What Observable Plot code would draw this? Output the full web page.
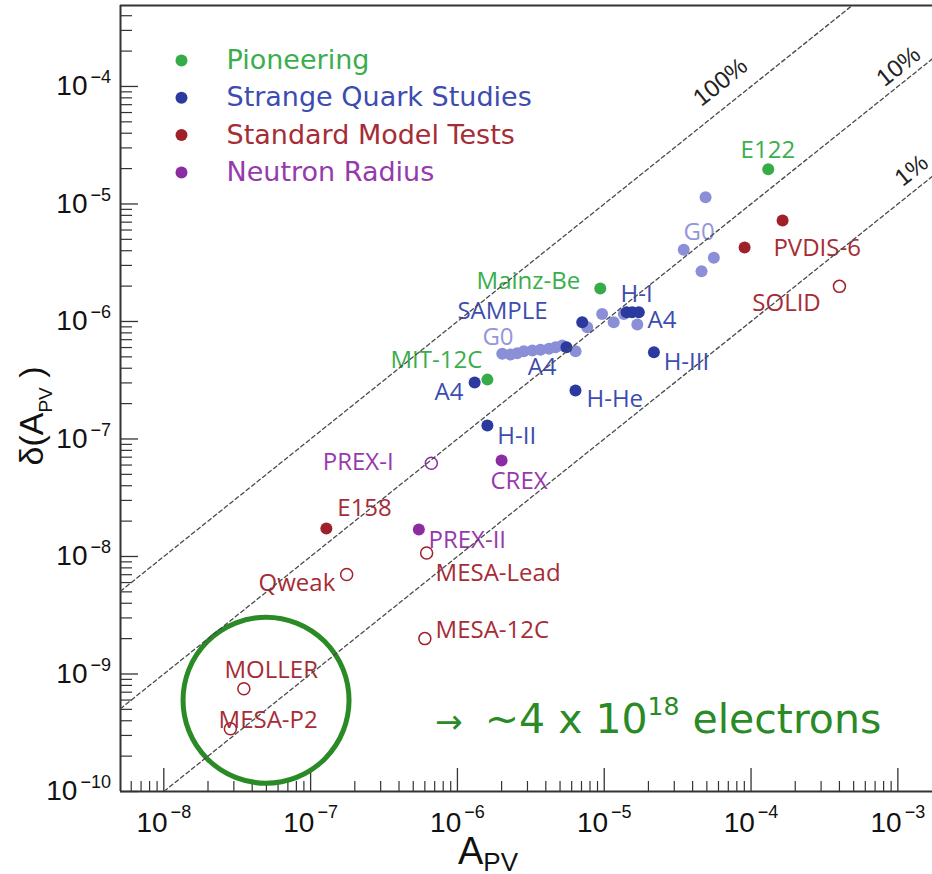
<!DOCTYPE html>
<html><head><meta charset="utf-8">
<script src="https://cdn.jsdelivr.net/npm/d3@7"></script>
<script src="https://cdn.jsdelivr.net/npm/@observablehq/plot@0.6"></script>
<style>
body{margin:0;background:#fff}
#chart{width:932px;height:874px}
</style>
</head><body><div id="chart"></div>
<script>
// ---------- data ----------
const groups = ["Pioneering", "Strange Quark Studies", "Standard Model Tests", "Neutron Radius"];
const groupKeys = ["green", "blue", "red", "purple"];

// points: name, A_PV, delta(A_PV), style key, filled/open
const pointName = [
  "E122", "Mainz-Be", "MIT-12C",
  "A4", "H-II", "H-He", "H-III", "A4", "SAMPLE", "H-I", "H-I", "H-I",
  "G0", "G0", "G0", "G0", "G0", "G0", "G0", "G0", "G0",
  "G0", "G0", "G0", "G0", "G0", "G0", "G0", "G0", "G0", "G0",
  "E158", "PVDIS-6", "PVDIS-6",
  "SOLID", "Qweak", "MESA-Lead", "MESA-12C", "MOLLER", "MESA-P2",
  "PREX-I", "CREX", "PREX-II"
];
const pointA = [
  1.31e-4, 9.4e-6, 1.6e-6,
  1.31e-6, 1.6e-6, 6.37e-6, 2.18e-5, 5.53e-6, 7.08e-6, 1.42e-5, 1.55e-5, 1.72e-5,
  4.9e-5, 3.48e-5, 5.58e-5, 4.6e-5, 9.68e-6, 1.16e-5, 1.36e-5, 1.68e-5, 7.66e-6,
  2.02e-6, 2.30e-6, 2.55e-6, 2.83e-6, 3.24e-6, 3.68e-6, 4.20e-6, 4.66e-6, 5.18e-6, 6.38e-6,
  1.28e-7, 9.04e-5, 1.64e-4,
  4.0e-4, 1.76e-7, 6.17e-7, 6.0e-7, 3.51e-8, 2.84e-8,
  6.64e-7, 2.0e-6, 5.46e-7
];
const pointD = [
  1.97e-5, 1.91e-6, 3.2e-7,
  3.03e-7, 1.30e-7, 2.59e-7, 5.48e-7, 6.04e-7, 9.87e-7, 1.2e-6, 1.2e-6, 1.2e-6,
  1.14e-5, 4.07e-6, 3.48e-6, 2.68e-6, 1.16e-6, 9.87e-7, 1.16e-6, 9.41e-7, 8.93e-7,
  5.31e-7, 5.24e-7, 5.37e-7, 5.58e-7, 5.66e-7, 5.74e-7, 5.86e-7, 6.04e-7, 6.25e-7, 5.58e-7,
  1.73e-8, 4.27e-6, 7.24e-6,
  1.99e-6, 7.03e-9, 1.07e-8, 2.0e-9, 7.48e-10, 3.42e-10,
  6.22e-8, 6.56e-8, 1.70e-8
];
const pointKey = [
  "green", "green", "green",
  "blue", "blue", "blue", "blue", "blue", "blue", "blue", "blue", "blue",
  "light", "light", "light", "light", "light", "light", "light", "light", "light",
  "light", "light", "light", "light", "light", "light", "light", "light", "light", "light",
  "red", "red", "red",
  "red", "red", "red", "red", "red", "red",
  "purple", "purple", "purple"
];
const pointFilled = [
  true, true, true,
  true, true, true, true, true, true, true, true, true,
  true, true, true, true, true, true, true, true, true,
  true, true, true, true, true, true, true, true, true, true,
  true, true, true,
  false, false, false, false, false, false,
  false, true, true
];

// labels (anchor = start of text, vertical middle), in data units
const labelText = ["E122", "G0", "PVDIS-6", "SOLID", "Mainz-Be", "H-I", "SAMPLE", "A4", "G0", "MIT-12C",
  "A4", "H-III", "A4", "H-He", "H-II", "PREX-I", "CREX", "E158", "PREX-II", "Qweak",
  "MESA-Lead", "MESA-12C", "MOLLER", "MESA-P2"];
const labelA = [8.49e-5, 3.47e-5, 1.42e-4, 1.02e-4, 1.35e-6, 1.29e-5, 1.0e-6, 1.97e-5, 1.48e-6, 3.50e-7,
  3.01e-6, 2.54e-5, 6.98e-7, 7.57e-6, 1.87e-6, 1.21e-7, 1.68e-6, 1.52e-7, 6.35e-7, 4.42e-8,
  7.10e-7, 7.10e-7, 2.59e-8, 2.36e-8];
const labelD = [2.85e-5, 5.71e-6, 4.18e-6, 1.42e-6, 2.19e-6, 1.70e-6, 1.22e-6, 1.02e-6, 7.31e-7, 4.66e-7,
  4.06e-7, 4.48e-7, 2.49e-7, 2.17e-7, 1.05e-7, 6.31e-8, 4.34e-8, 2.56e-8, 1.37e-8, 5.89e-9,
  7.16e-9, 2.34e-9, 1.07e-9, 4.02e-10];
const labelKey = ["green", "light", "red", "red", "green", "blue", "blue", "blue", "light", "green",
  "blue", "blue", "blue", "blue", "blue", "purple", "purple", "red", "purple", "red",
  "red", "red", "red", "red"];

// precision lines: delta = fraction * A
const fractions = [1, 0.1, 0.01];
const fractionText = ["100%", "10%", "1%"];
const fractionLabelA = [6.19e-5, 1.01e-3, 1.24e-3];
const fractionLabelD = [1.09e-4, 1.48e-4, 1.93e-5];

// highlighted region (MOLLER / MESA-P2)
const circleA = [4.97e-8];
const circleD = [5.98e-10];

// axes
const xExponents = [-8, -7, -6, -5, -4, -3];
const yExponents = [-10, -9, -8, -7, -6, -5, -4];
const xDomain = [Math.pow(10, -8.295), Math.pow(10, -2.764)];
const yDomain = [1e-10, Math.pow(10, -3.311)];

// ---------- styles ----------
const dotColor = {green: "#36ac48", blue: "#2b3a9e", light: "#8b8fd8", red: "#a0202a", purple: "#8c2ca2"};
const textColor = {green: "#3aae4c", blue: "#3d4cb0", light: "#9396dc", red: "#a62c36", purple: "#9639ac"};
const lightOrder = {light: 0, green: 1, blue: 2, red: 3, purple: 4};

const points = pointA.map((a, i) => ({name: pointName[i], a, d: pointD[i], key: pointKey[i], filled: pointFilled[i]}))
  .sort((p, q) => lightOrder[p.key] - lightOrder[q.key]);
const labels = labelText.map((t, i) => ({t, a: labelA[i], d: labelD[i], key: labelKey[i]}));
const lineData = fractions.flatMap(f => xDomain.map(a => ({f, a, d: f * a})));
const fractionLabels = fractionText.map((t, i) => ({t, a: fractionLabelA[i], d: fractionLabelD[i]}));
const circleData = circleA.map((a, i) => ({a, d: circleD[i]}));

const minorX = [], minorY = [];
for (let k = -11; k <= -2; k++) for (let m = 2; m <= 9; m++) {
  const v = m * Math.pow(10, k);
  if (v > xDomain[0] && v < xDomain[1]) minorX.push(v);
  if (v > yDomain[0] && v < yDomain[1]) minorY.push(v);
}
const majorX = xExponents.map(e => Math.pow(10, e));
const majorY = yExponents.map(e => Math.pow(10, e));
const expOf = v => Math.round(Math.log10(v));

const legendMarks = groups.flatMap((g, i) => [
  Plot.dot([g], {frameAnchor: "top-left", dx: 61, dy: 55 + 37.3 * i, r: 6, fill: dotColor[groupKeys[i]]}),
  Plot.text([g], {frameAnchor: "top-left", dx: 106, dy: 55 + 37.3 * i, text: d => d, textAnchor: "start",
    lineAnchor: "middle", fontSize: 27, fontFamily: "DejaVu Sans", fill: textColor[groupKeys[i]]})
]);

const axisColor = "#333";

const chart = Plot.plot({
  width: 932, height: 874,
  marginLeft: 120, marginRight: 0, marginTop: 5, marginBottom: 83,
  x: {type: "log", domain: xDomain, label: null},
  y: {type: "log", domain: yDomain, label: null},
  color: {type: "identity"},
  style: {fontFamily: "Liberation Sans, Arial, sans-serif", background: "#fff", overflow: "visible"},
  marks: [
    // axis tick marks (inward)
    Plot.axisX(minorX, {anchor: "bottom", tickSize: -10, tickFormat: () => "", stroke: axisColor, strokeWidth: 1.2, label: null}),
    Plot.axisX(majorX, {anchor: "bottom", tickSize: -23, tickFormat: () => "", stroke: axisColor, strokeWidth: 1.3, label: null}),
    Plot.axisY(minorY, {anchor: "left", tickSize: -12, tickFormat: () => "", stroke: axisColor, strokeWidth: 1.2, label: null}),
    Plot.axisY(majorY, {anchor: "left", tickSize: -18, tickFormat: () => "", stroke: axisColor, strokeWidth: 1.3, label: null}),
    // tick labels
    Plot.axisX(majorX, {anchor: "bottom", tickSize: 0, tickPadding: 20.5, fontSize: 28, fill: "#111",
      tickFormat: v => "10^−" + (-expOf(v)), label: null}),
    Plot.axisY(majorY, {anchor: "left", tickSize: 0, tickPadding: 9.5, fontSize: 28, fill: "#111",
      tickFormat: v => "10^−" + (-expOf(v)), label: null}),
    // frame lines
    Plot.ruleX([xDomain[0]], {stroke: axisColor, strokeWidth: 2}),
    Plot.ruleY([yDomain[0]], {stroke: axisColor, strokeWidth: 2}),
    Plot.ruleY([yDomain[1]], {stroke: axisColor, strokeWidth: 2}),
    // legend
    ...legendMarks,
    // highlight circle
    Plot.dot(circleData, {x: "a", y: "d", r: 83, stroke: "#2a8a26", strokeWidth: 5, fill: "none"}),
    // data points
    Plot.dot(points.filter(p => p.filled), {x: "a", y: "d", r: 6, fill: p => dotColor[p.key]}),
    Plot.dot(points.filter(p => !p.filled), {x: "a", y: "d", r: 6, fill: "none", stroke: p => dotColor[p.key], strokeWidth: 1.5}),
    // labels
    Plot.text(labels, {x: "a", y: "d", text: "t", textAnchor: "start", lineAnchor: "middle", fontSize: 24,
      fontFamily: "Open Sans", fill: l => textColor[l.key]}),
    // precision lines
    Plot.line(lineData, {x: "a", y: "d", z: "f", stroke: "#4a4a4a", strokeWidth: 1.3, strokeDasharray: "4,3", clip: true}),
    Plot.text(fractionLabels, {x: "a", y: "d", text: "t", rotate: -38.7, fontSize: 24, fill: "#222"})
  ]
});

// superscript exponents in tick labels
const svg = d3.select(chart);
svg.selectAll('g[aria-label="x-axis tick label"] text, g[aria-label="y-axis tick label"] text').each(function() {
  const s = this.textContent;
  if (s.indexOf("^") < 0) return;
  const [base, sup] = s.split("^");
  const isX = this.parentNode.getAttribute("aria-label").startsWith("x");
  const t = d3.select(this);
  t.text(null);
  t.append("tspan").text(base);
  t.append("tspan").attr("font-size", 18).attr("dx", 3).attr("dy", isX ? -14 : -12).text(sup);
});

// axis titles
const xt = svg.append("text").attr("x", 458).attr("y", 864).attr("text-anchor", "start")
  .attr("font-size", 38).attr("fill", "#111");
xt.append("tspan").text("A");
xt.append("tspan").attr("font-size", 26).attr("dy", 7).text("PV");

const yt = svg.append("text").attr("transform", "translate(43,416) rotate(-90)")
  .attr("text-anchor", "middle").attr("font-size", 34).attr("fill", "#111");
yt.append("tspan").text("δ(A");
yt.append("tspan").attr("font-size", 19).attr("dy", 9).text("PV");
yt.append("tspan").attr("dy", -9).text(" )");

// annotation
const an = svg.append("text").attr("x", 435).attr("y", 733).attr("text-anchor", "start")
  .attr("fill", "#2a8a26").attr("font-family", "DejaVu Sans");
an.append("tspan").attr("font-size", 33).text("→");
an.append("tspan").attr("font-size", 41).attr("dx", 22).text("~4 x 10");
an.append("tspan").attr("font-size", 25).attr("dy", -18).text("18");
an.append("tspan").attr("font-size", 41).attr("dy", 18).text(" electrons");

document.getElementById("chart").appendChild(chart);
</script>
</body></html>
